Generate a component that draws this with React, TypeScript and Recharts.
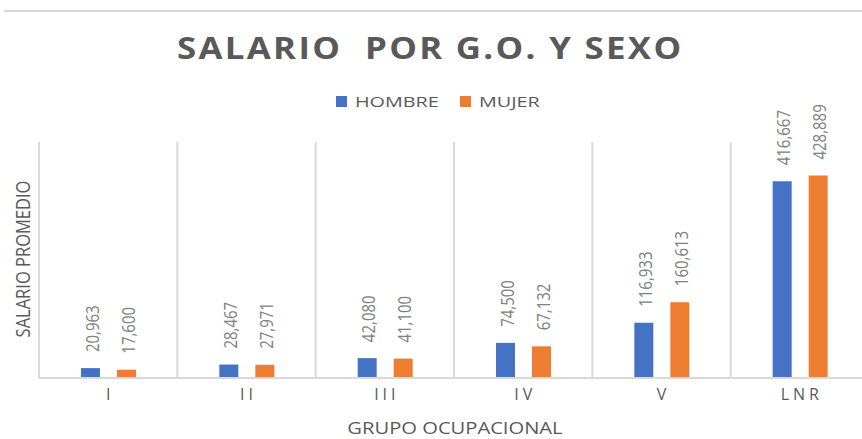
import { BarChart, Bar, XAxis, YAxis, ReferenceLine, LabelList } from 'recharts'

const categories = ['I', 'II', 'III', 'IV', 'V', 'LNR']
const hombre = [20963, 28467, 42080, 74500, 116933, 416667]
const mujer = [17600, 27971, 41100, 67132, 160613, 428889]
const yDomain = [0, 500000]

const series = [
  { key: 'hombre', name: 'HOMBRE', color: '#4472C4' },
  { key: 'mujer', name: 'MUJER', color: '#ED7D31' },
]

const data = categories.map((group, i) => ({ group, hombre: hombre[i], mujer: mujer[i] }))

const FONT = '"Open Sans", "DejaVu Sans", sans-serif'
const GRID = '#d9d9d9'

// rotated value above each bar, stretched sideways like the Excel export
function ValueLabel(props: any) {
  const { x, y, width, value } = props
  const cx = Number(x) + Number(width) / 2 + 1
  return (
    <text
      transform={`translate(${cx},${Number(y) - 16}) rotate(-90) scale(1,1.25)`}
      textAnchor="start"
      dominantBaseline="central"
      fontSize={15}
      fontFamily={FONT}
      fill="#808080"
    >
      {Number(value).toLocaleString('en-US')}
    </text>
  )
}

function GroupTick(props: any) {
  const { x, y, payload } = props
  return (
    <text
      x={x + 2}
      y={y + 14}
      textAnchor="middle"
      fontSize={16}
      fontFamily={FONT}
      letterSpacing={4}
      fill="#595959"
    >
      {payload.value}
    </text>
  )
}

export default function App() {
  return (
    <div style={{ position: 'absolute', left: 0, top: 0, width: 862, height: 439, overflow: 'hidden', background: '#fff', fontFamily: FONT }}>
      <div style={{ position: 'absolute', left: 4, right: 0, top: 10, height: 2, background: GRID }} />

      {/* title */}
      <div
        style={{
          position: 'absolute', left: 0, width: 862, top: 27, textAlign: 'center',
          fontSize: 30, fontWeight: 700, color: '#595959', letterSpacing: 2,
          transform: 'scaleX(1.16)', transformOrigin: '436px 0', whiteSpace: 'pre',
        }}
      >
        SALARIO  POR G.O. Y SEXO
      </div>

      {/* legend */}
      <div style={{ position: 'absolute', left: 336, top: 91, display: 'flex', alignItems: 'center', color: '#595959', fontSize: 15 }}>
        {series.map(s => (
          <div key={s.key} style={{ display: 'flex', alignItems: 'center', width: 124 }}>
            <span style={{ width: 11, height: 11, background: s.color, display: 'inline-block', marginRight: 8 }} />
            <span style={{ display: 'inline-block', transform: 'scaleX(1.32)', transformOrigin: '0 50%' }}>{s.name}</span>
          </div>
        ))}
      </div>

      {/* axis titles */}
      <div
        style={{
          position: 'absolute', left: 22, top: 259, fontSize: 16.5, color: '#595959', whiteSpace: 'nowrap',
          transform: 'translate(-50%, -50%) rotate(-90deg) scaleY(1.25)',
        }}
      >
        SALARIO PROMEDIO
      </div>
      <div
        style={{
          position: 'absolute', left: 0, width: 910, top: 417, textAlign: 'center', fontSize: 16, color: '#595959',
          transform: 'scaleX(1.26)', transformOrigin: '455px 0',
        }}
      >
        GRUPO OCUPACIONAL
      </div>

      <BarChart
        width={870}
        height={439}
        data={data}
        margin={{ top: 142, right: 1, left: 39, bottom: 31 }}
        barSize={19}
        barGap={17}
        style={{ position: 'absolute', left: 0, top: 0 }}
      >
        <XAxis
          dataKey="group"
          height={30}
          axisLine={{ stroke: GRID, strokeWidth: 2 }}
          tickLine={false}
          tick={<GroupTick />}
          interval={0}
        />
        <YAxis hide domain={yDomain} allowDataOverflow />
        {categories.map(c => (
          <ReferenceLine key={c} x={c} position="start" stroke={GRID} strokeWidth={2} />
        ))}
        {series.map(s => (
          <Bar key={s.key} dataKey={s.key} name={s.name} fill={s.color} isAnimationActive={false}>
            <LabelList dataKey={s.key} content={<ValueLabel />} />
          </Bar>
        ))}
      </BarChart>
    </div>
  )
}
